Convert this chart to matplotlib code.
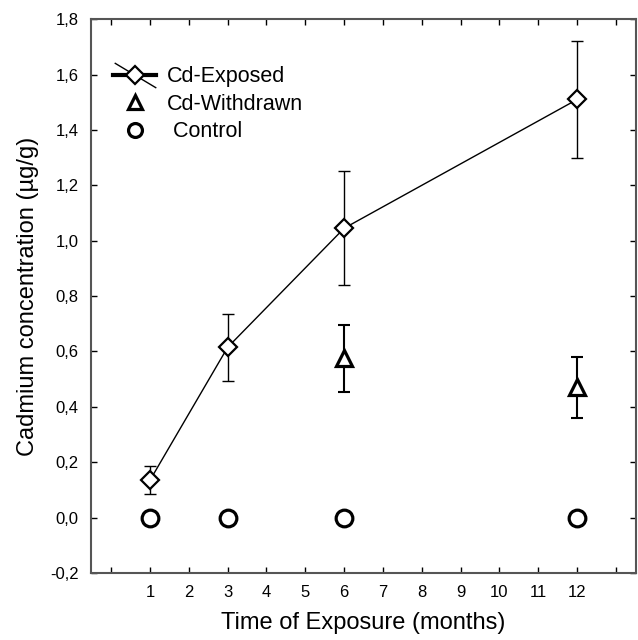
import matplotlib
matplotlib.use("Agg")
import matplotlib.pyplot as plt
from matplotlib.lines import Line2D
from matplotlib.legend_handler import HandlerTuple
from matplotlib.path import Path

plt.rcParams["font.family"] = ["Liberation Sans", "DejaVu Sans"]

# data
months_exposed = [1, 3, 6, 12]
cd_exposed = [0.135, 0.615, 1.045, 1.51]
cd_exposed_err = [0.05, 0.12, 0.205, 0.21]

months_withdrawn = [6, 12]
cd_withdrawn = [0.575, 0.47]
cd_withdrawn_err = [0.12, 0.11]

months_control = [1, 3, 6, 12]
control = [0.0, 0.0, 0.0, 0.0]

x_ticks = list(range(0, 14))
x_tick_labels = [""] + [str(m) for m in range(1, 13)] + [""]
y_ticks = [-0.2, 0.0, 0.2, 0.4, 0.6, 0.8, 1.0, 1.2, 1.4, 1.6, 1.8]
y_tick_labels = [f"{v:.1f}".replace(".", ",") for v in y_ticks]

fig = plt.figure(figsize=(6.38, 6.40), dpi=100)
ax = fig.add_axes([0.1426, 0.1047, 0.997 - 0.1426, 0.970 - 0.1047])

# Cd-exposed: line + open diamonds
ax.errorbar(months_exposed, cd_exposed, yerr=cd_exposed_err, fmt="none",
            ecolor="black", elinewidth=1.0, capsize=4, capthick=1.0, zorder=2)
ax.plot(months_exposed, cd_exposed, color="black", linewidth=1.0, zorder=3)
ax.plot(months_exposed, cd_exposed, linestyle="none", marker="D", markersize=9.5,
        markerfacecolor="white", markeredgecolor="black", markeredgewidth=1.6, zorder=4)

# Cd-withdrawn: open triangles
ax.errorbar(months_withdrawn, cd_withdrawn, yerr=cd_withdrawn_err, fmt="none",
            ecolor="black", elinewidth=1.5, capsize=4, capthick=1.5, zorder=2)
ax.plot(months_withdrawn, cd_withdrawn, linestyle="none", marker="^", markersize=11,
        markerfacecolor="white", markeredgecolor="black", markeredgewidth=2.3, zorder=4)

# control: open circles
ax.plot(months_control, control, linestyle="none", marker="o", markersize=12,
        markerfacecolor="white", markeredgecolor="black", markeredgewidth=2.3, zorder=4)

ax.set_xlim(-0.52, 13.52)
ax.set_ylim(-0.2, 1.8)
ax.set_xticks(x_ticks)
ax.set_xticklabels(x_tick_labels)
ax.set_yticks(y_ticks)
ax.set_yticklabels(y_tick_labels)
ax.tick_params(direction="in", top=True, right=True, length=4, width=1,
               labelsize=12, pad=9)
for sp in ax.spines.values():
    sp.set_color("#555555")
    sp.set_linewidth(1.5)

ax.set_xlabel("Time of Exposure (months)", fontsize=17, labelpad=8)
ax.set_ylabel("Cadmium concentration (\u00b5g/g)", fontsize=17, labelpad=8)

# legend with the odd crossed handle for Cd-Exposed
slash = Path([(-1, 0.6), (1, -0.6)], [Path.MOVETO, Path.LINETO])
h_line = Line2D([], [], color="black", linewidth=3, marker="D", markersize=9,
                markerfacecolor="white", markeredgecolor="black", markeredgewidth=1.6)
h_slash = Line2D([], [], linestyle="none", marker=slash, markersize=30,
                 markeredgecolor="black", markeredgewidth=1.0)
h_tri = Line2D([], [], linestyle="none", marker="^", markersize=10,
               markerfacecolor="white", markeredgecolor="black", markeredgewidth=2.3)
h_circ = Line2D([], [], linestyle="none", marker="o", markersize=10,
                markerfacecolor="white", markeredgecolor="black", markeredgewidth=2.3)

ax.legend([(h_slash, h_line), h_tri, h_circ],
          ["Cd-Exposed", "Cd-Withdrawn", " Control"],
          handler_map={tuple: HandlerTuple(ndivide=1)},
          loc="upper left", bbox_to_anchor=(0.005, 0.95), frameon=False,
          fontsize=15.5, handlelength=2.0, handletextpad=0.5, labelspacing=0.3)

fig.savefig("out.png", dpi=100)
